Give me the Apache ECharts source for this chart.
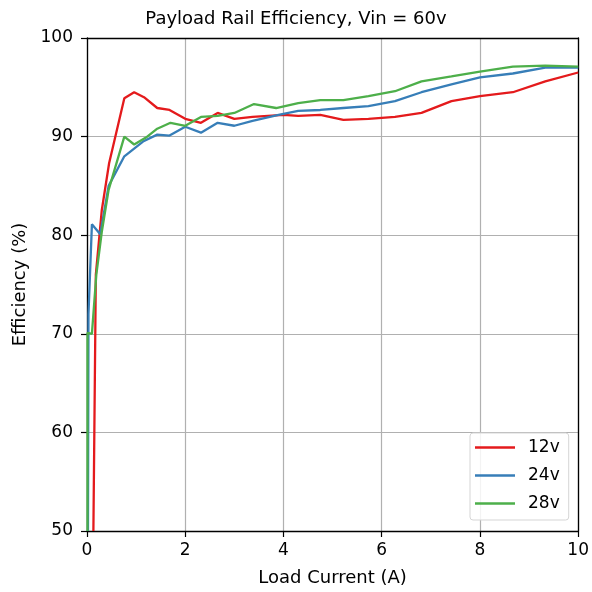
<!DOCTYPE html>
<html><head><meta charset="utf-8">
<script src="https://cdn.jsdelivr.net/npm/echarts@6/dist/echarts.min.js"></script>
<style>html,body{margin:0;padding:0;background:#fff}#c{width:592px;height:592px}</style>
</head><body><div id="c"></div>
<script>
var seriesNames = ['12v', '24v', '28v'];
var x12 = [0.13, 0.18, 0.3, 0.45, 0.76, 0.96, 1.16, 1.43, 1.68, 2.0, 2.32, 2.66, 3.0, 3.37, 4.0, 4.3, 4.75, 5.22, 5.73, 6.27, 6.81, 7.42, 8.0, 8.67, 9.33, 10.0];
var y12 = [50, 76, 82.5, 87.3, 93.9, 94.5, 94.0, 92.9, 92.7, 91.8, 91.4, 92.4, 91.8, 92.0, 92.2, 92.1, 92.2, 91.7, 91.8, 92.0, 92.4, 93.6, 94.1, 94.5, 95.6, 96.5];
var x24 = [0.02, 0.03, 0.1, 0.27, 0.44, 0.76, 1.14, 1.43, 1.68, 2.0, 2.32, 2.66, 3.0, 3.37, 3.9, 4.3, 4.75, 5.22, 5.73, 6.27, 6.81, 7.42, 8.0, 8.67, 9.33, 10.0];
var y24 = [50, 72, 81.1, 80.1, 85.0, 88.0, 89.5, 90.2, 90.1, 91.0, 90.4, 91.4, 91.1, 91.6, 92.2, 92.6, 92.7, 92.9, 93.1, 93.6, 94.5, 95.3, 96.0, 96.4, 97.0, 97.0];
var x28 = [0.01, 0.01, 0.1, 0.19, 0.3, 0.44, 0.76, 0.96, 1.2, 1.43, 1.7, 2.0, 2.32, 2.66, 3.0, 3.4, 3.85, 4.3, 4.75, 5.22, 5.73, 6.27, 6.81, 7.42, 8.0, 8.67, 9.33, 10.0];
var y28 = [50, 70.1, 70.0, 76.0, 80.3, 84.6, 90.0, 89.2, 89.9, 90.8, 91.4, 91.1, 92.0, 92.1, 92.4, 93.3, 92.9, 93.4, 93.7, 93.7, 94.1, 94.6, 95.6, 96.1, 96.6, 97.1, 97.2, 97.1];
var xTicks = [0, 2, 4, 6, 8, 10];
var yTicks = [50, 60, 70, 80, 90, 100];
var colors = ['#e41a1c', '#377eb8', '#4daf4a'];

function pairs(xs, ys) { return xs.map(function (v, i) { return [v, ys[i]]; }); }
var datasets = [pairs(x12, y12), pairs(x24, y24), pairs(x28, y28)];

var chart = echarts.init(document.getElementById('c'), null, {renderer: 'canvas'});
var font = 'DejaVu Sans';
var spine = {show: true, onZero: false, lineStyle: {color: '#000', width: 1.3}};
chart.setOption({
  animation: false,
  backgroundColor: '#fff',
  title: {
    text: 'Payload Rail Efficiency, Vin = 60v',
    left: 'center', top: 5,
    textStyle: {fontFamily: font, fontSize: 18, fontWeight: 'normal', color: '#000'}
  },
  grid: {left: 87, right: 11, top: 38, bottom: 60},
  legend: {
    orient: 'vertical', left: 470, top: 433,
    data: seriesNames,
    icon: 'rect', itemWidth: 40, itemHeight: 2.5, itemGap: 11,
    padding: [6, 9, 8, 5],
    borderColor: '#d5d5d5', borderWidth: 1, borderRadius: 3,
    backgroundColor: 'rgba(255,255,255,0.85)',
    textStyle: {fontFamily: font, fontSize: 17, color: '#000', padding: [0, 0, 0, 8]}
  },
  xAxis: [{
    type: 'value', min: 0, max: 10, interval: 2,
    name: 'Load Current (A)', nameLocation: 'middle', nameGap: 38,
    nameTextStyle: {fontFamily: font, fontSize: 18, color: '#000'},
    axisLine: spine,
    axisTick: {show: true, inside: false, length: 6, lineStyle: {color: '#000', width: 1.2}},
    axisLabel: {fontFamily: font, fontSize: 17, color: '#000', margin: 11,
      formatter: function (v) { return xTicks.indexOf(v) >= 0 ? String(v) : ''; }},
    splitLine: {show: true, lineStyle: {color: '#b0b0b0', width: 1.2}}
  }, {
    type: 'value', position: 'top', min: 0, max: 10, interval: 2,
    axisLine: spine, axisTick: {show: false}, axisLabel: {show: false}, splitLine: {show: false}
  }],
  yAxis: [{
    type: 'value', min: 50, max: 100, interval: 10,
    name: 'Efficiency (%)', nameLocation: 'middle', nameGap: 56,
    nameTextStyle: {fontFamily: font, fontSize: 18, color: '#000'},
    axisLine: spine,
    axisTick: {show: true, inside: false, length: 6, lineStyle: {color: '#000', width: 1.2}},
    axisLabel: {fontFamily: font, fontSize: 17, color: '#000', margin: 14,
      formatter: function (v) { return yTicks.indexOf(v) >= 0 ? String(v) : ''; }},
    splitLine: {show: true, lineStyle: {color: '#b0b0b0', width: 1.2}}
  }, {
    type: 'value', position: 'right', min: 50, max: 100, interval: 10,
    axisLine: spine, axisTick: {show: false}, axisLabel: {show: false}, splitLine: {show: false}
  }],
  series: seriesNames.map(function (n, i) {
    return {
      name: n, type: 'line', data: datasets[i], xAxisIndex: 0, yAxisIndex: 0,
      showSymbol: false, symbol: 'none', clip: true,
      lineStyle: {color: colors[i], width: 2.3},
      itemStyle: {color: colors[i]}
    };
  })
});
</script></body></html>
